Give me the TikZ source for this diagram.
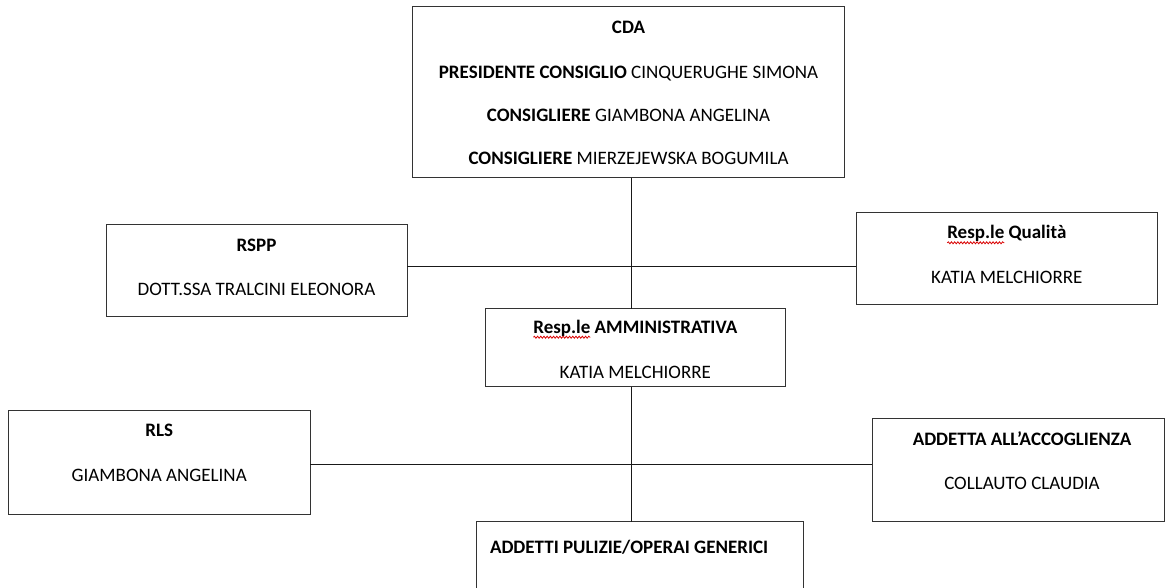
\documentclass[tikz,border=0pt]{standalone}
\usepackage{fontspec}
\setmainfont{Carlito}
\usetikzlibrary{decorations.pathmorphing}
\newlength\respwidth
\begin{document}
\settowidth{\respwidth}{\fontsize{19}{23}\selectfont\bfseries Resp.le}
\begin{tikzpicture}[x=1pt,y=-1pt,
  font=\fontsize{19}{23}\selectfont,
  box/.style={draw=black!80, line width=1pt, outer sep=0pt, inner sep=0pt},
  conn/.style={draw=black!90, line width=1pt},
  txt/.style={inner sep=0pt, outer sep=0pt, text height=12.2pt, text depth=0pt, anchor=center},
  wavy/.style={draw=red!85!black, line width=0.8pt, decorate, decoration={snake, amplitude=1pt, segment length=3.2pt}}]
\useasboundingbox (0,0) rectangle (1165,588);
\clip (0,0) rectangle (1165,588);
\fill[white] (0,0) rectangle (1165,588);
% boxes
\node[box, minimum width=431.6pt, minimum height=171pt] (cda) at (628.5,92.2) {};
\node[box, minimum width=301pt, minimum height=91.7pt] (rspp) at (256.5,270.2) {};
\node[box, minimum width=301pt, minimum height=91.5pt] (qual) at (1006.8,258.3) {};
\node[box, minimum width=300.5pt, minimum height=77.8pt] (amm) at (635.3,347.6) {};
\node[box, minimum width=301.7pt, minimum height=104pt] (rls) at (159.2,462) {};
\node[box, minimum width=292pt, minimum height=103pt] (acc) at (1018,469.5) {};
\node[box, minimum width=327pt, minimum height=90pt] (add) at (640,566.7) {};
% texts
\node[txt] (cda1) at (628.5,27.7) {\textbf{CDA}};
\node[txt] (cda2) at (628.5,72.5) {\textbf{PRESIDENTE CONSIGLIO} CINQUERUGHE SIMONA};
\node[txt] (cda3) at (628.5,115.2) {\textbf{CONSIGLIERE} GIAMBONA ANGELINA};
\node[txt] (cda4) at (628.5,158.5) {\textbf{CONSIGLIERE} MIERZEJEWSKA BOGUMILA};
\node[txt] (rspp1) at (256.5,245) {\textbf{RSPP}};
\node[txt] (rspp2) at (256.5,289.3) {DOTT.SSA TRALCINI ELEONORA};
\node[txt] (qual1) at (1006.8,232.8) {\textbf{Resp.le Qualità}};
\node[txt] (qual2) at (1006.8,277.2) {KATIA MELCHIORRE};
\node[txt] (amm1) at (635.3,327.2) {\textbf{Resp.le AMMINISTRATIVA}};
\node[txt] (amm2) at (635.3,372.2) {KATIA MELCHIORRE};
\node[txt] (rls1) at (159.2,430.8) {\textbf{RLS}};
\node[txt] (rls2) at (159.2,475.5) {GIAMBONA ANGELINA};
\node[txt] (acc1) at (1022,439.2) {\textbf{ADDETTA ALL’ACCOGLIENZA}};
\node[txt] (acc2) at (1022,483.5) {COLLAUTO CLAUDIA};
\node[txt, anchor=west] (add1) at (490,547) {\textbf{ADDETTI PULIZIE/OPERAI GENERICI}};
% spell-check underlines
\coordinate (q0) at ([yshift=-10pt]qual1.west);
\coordinate (a0) at ([yshift=-10pt]amm1.west);
\draw[wavy] (q0) -- ([xshift=\respwidth]q0);
\draw[wavy] (a0) -- ([xshift=\respwidth]a0);
% connectors
\coordinate (v) at (631,0);
\coordinate (h1) at (0,266.7);
\coordinate (h2) at (0,464.5);
\draw[conn] (cda.south -| v) -- (amm.north -| v);
\draw[conn] (amm.south -| v) -- (add.north -| v);
\draw[conn] (rspp.east |- h1) -- (qual.west |- h1);
\draw[conn] (rls.east |- h2) -- (acc.west |- h2);
\end{tikzpicture}
\end{document}
